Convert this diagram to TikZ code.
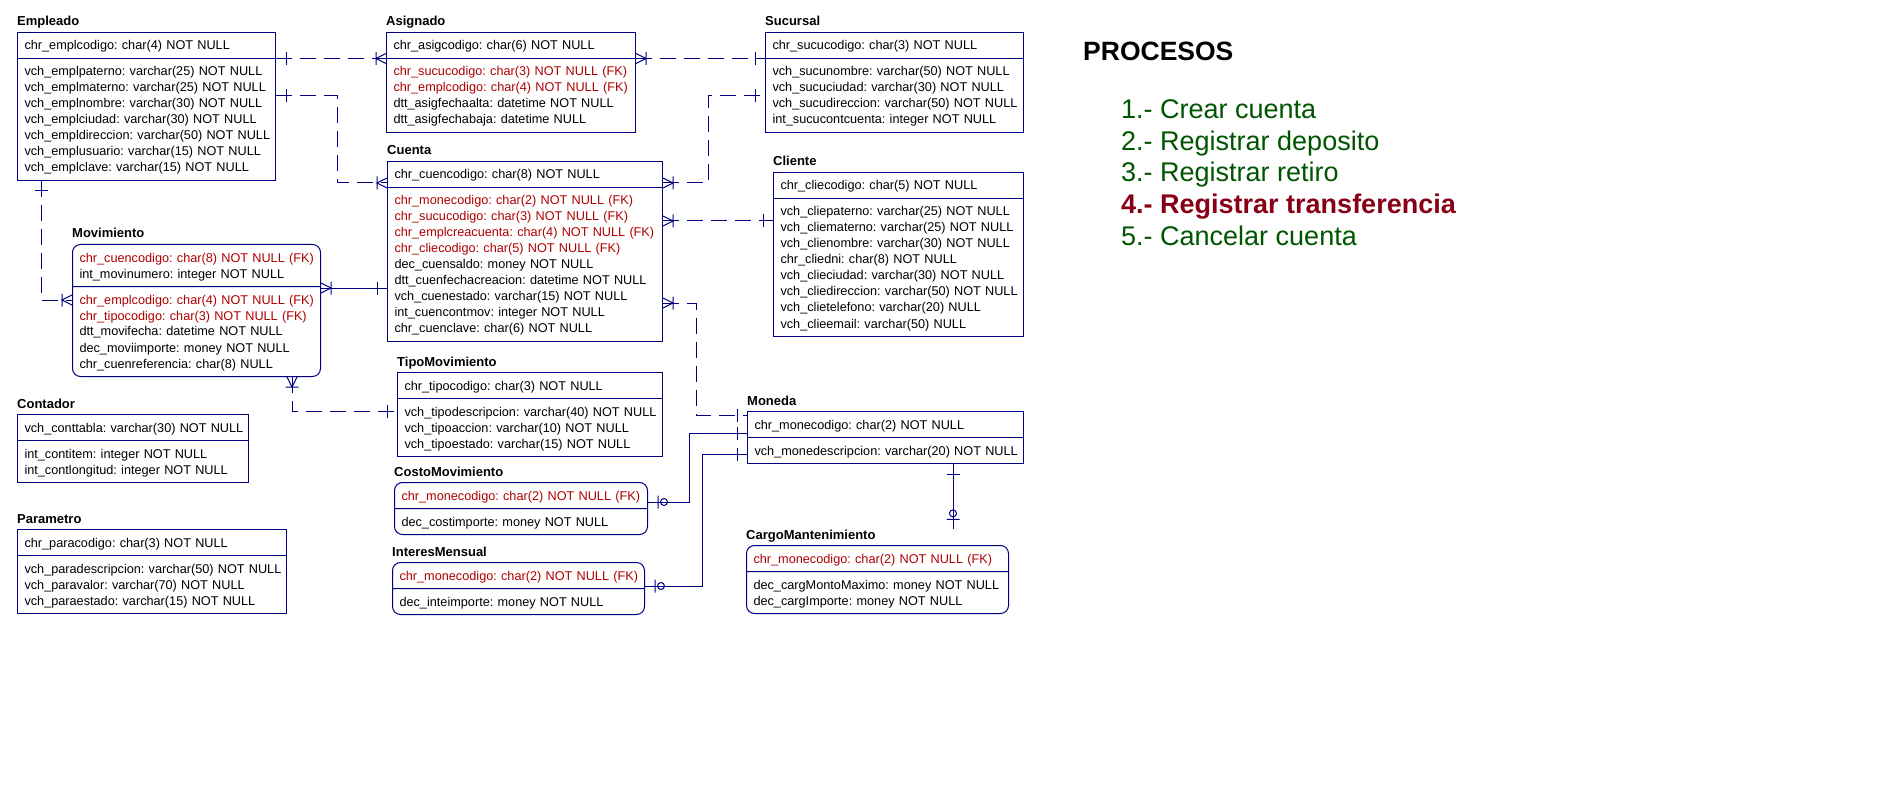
\documentclass[tikz,border=0pt]{standalone}
\usepackage{fontspec}
\setmainfont{Liberation Sans}
\usepackage{xcolor}
\usepackage{tikz}
\usetikzlibrary{shapes.multipart, decorations.markings, calc}
\frenchspacing
\definecolor{erblue}{RGB}{0,0,128}
\definecolor{fkred}{RGB}{175,0,0}
\definecolor{procgreen}{RGB}{0,85,0}
\definecolor{procred}{RGB}{136,0,21}
\newcommand{\erfont}{\fontsize{12.7pt}{16pt}\selectfont}
\newcommand{\ttlfont}{\fontsize{13pt}{16pt}\selectfont\bfseries}
\newcommand{\procfont}{\fontsize{27pt}{32pt}\selectfont}
\newcommand{\fld}[1]{\mbox{\rule[-3.5pt]{0pt}{16pt}#1}}
\newcommand{\fkf}[1]{\fld{\color{fkred}#1}}
\tikzset{
  tbl/.style={rectangle split, rectangle split parts=2, draw=erblue, line width=1pt, inner xsep=7pt, inner ysep=4.5pt, align=left, font=\erfont, anchor=north west},
  tblr/.style={tbl, rounded corners=8pt},
  ttl/.style={anchor=base west, inner sep=0pt, font=\ttlfont},
  proc/.style={anchor=base west, inner sep=0pt, font=\procfont, text=procgreen},
  rel/.style={erblue, line width=1pt, dash pattern=on 16pt off 8pt},
  idrel/.style={erblue, line width=1pt},
  one start/.style={postaction={decorate, decoration={markings, mark=at position 10pt with {\draw[solid, erblue, line width=1pt] (0,-6.5pt) -- (0,6.5pt);}}}},
  one end/.style={postaction={decorate, decoration={markings, mark=at position -10pt with {\draw[solid, erblue, line width=1pt] (0,-6.5pt) -- (0,6.5pt);}}}},
  many start/.style={postaction={decorate, decoration={markings, mark=at position 10pt with {\draw[solid, erblue, line width=1pt] (0,-6.5pt) -- (0,6.5pt) (-10pt,5pt) -- (0,0) -- (-10pt,-5pt);}}}},
  many end/.style={postaction={decorate, decoration={markings, mark=at position -10pt with {\draw[solid, erblue, line width=1pt] (0,-6.5pt) -- (0,6.5pt) (10pt,5pt) -- (0,0) -- (10pt,-5pt);}}}},
  zero one start/.style={postaction={decorate, decoration={markings, mark=at position 10pt with {\draw[solid, erblue, line width=1pt] (0,-6.5pt) -- (0,6.5pt) (6pt,0) circle (3.5pt);}}}},
  zero one end/.style={postaction={decorate, decoration={markings, mark=at position -10pt with {\draw[solid, erblue, line width=1pt] (0,-6.5pt) -- (0,6.5pt) (-6pt,0) circle (3.5pt);}}}},
}
\begin{document}
\begin{tikzpicture}[x=1pt, y=-1pt]
\path[use as bounding box, fill=white] (0,0) rectangle (1893,805);
% tablas
\node[tbl, text width=244pt] (emp) at (17,32) {\fld{chr\_emplcodigo: char(4) NOT NULL}
  \nodepart{two}\fld{vch\_emplpaterno: varchar(25) NOT NULL}\\\fld{vch\_emplmaterno: varchar(25) NOT NULL}\\
  \fld{vch\_emplnombre: varchar(30) NOT NULL}\\\fld{vch\_emplciudad: varchar(30) NOT NULL}\\
  \fld{vch\_empldireccion: varchar(50) NOT NULL}\\\fld{vch\_emplusuario: varchar(15) NOT NULL}\\
  \fld{vch\_emplclave: varchar(15) NOT NULL}};
\node[ttl] at ([yshift=6pt]emp.north west) {Empleado};
\node[tbl, text width=235pt] (asig) at (386,32) {\fld{chr\_asigcodigo: char(6) NOT NULL}
  \nodepart{two}\fkf{chr\_sucucodigo: char(3) NOT NULL (FK)}\\\fkf{chr\_emplcodigo: char(4) NOT NULL (FK)}\\
  \fld{dtt\_asigfechaalta: datetime NOT NULL}\\\fld{dtt\_asigfechabaja: datetime NULL}};
\node[ttl] at ([yshift=6pt]asig.north west) {Asignado};
\node[tbl, text width=244pt] (suc) at (765,32) {\fld{chr\_sucucodigo: char(3) NOT NULL}
  \nodepart{two}\fld{vch\_sucunombre: varchar(50) NOT NULL}\\\fld{vch\_sucuciudad: varchar(30) NOT NULL}\\
  \fld{vch\_sucudireccion: varchar(50) NOT NULL}\\\fld{int\_sucucontcuenta: integer NOT NULL}};
\node[ttl] at ([yshift=6pt]suc.north west) {Sucursal};
\node[tbl, text width=261pt] (cuenta) at (387,161) {\fld{chr\_cuencodigo: char(8) NOT NULL}
  \nodepart{two}\fkf{chr\_monecodigo: char(2) NOT NULL (FK)}\\\fkf{chr\_sucucodigo: char(3) NOT NULL (FK)}\\
  \fkf{chr\_emplcreacuenta: char(4) NOT NULL (FK)}\\\fkf{chr\_cliecodigo: char(5) NOT NULL (FK)}\\
  \fld{dec\_cuensaldo: money NOT NULL}\\\fld{dtt\_cuenfechacreacion: datetime NOT NULL}\\
  \fld{vch\_cuenestado: varchar(15) NOT NULL}\\\fld{int\_cuencontmov: integer NOT NULL}\\
  \fld{chr\_cuenclave: char(6) NOT NULL}};
\node[ttl] at ([yshift=6pt]cuenta.north west) {Cuenta};
\node[tbl, text width=236pt] (cli) at (773,172) {\fld{chr\_cliecodigo: char(5) NOT NULL}
  \nodepart{two}\fld{vch\_cliepaterno: varchar(25) NOT NULL}\\\fld{vch\_cliematerno: varchar(25) NOT NULL}\\
  \fld{vch\_clienombre: varchar(30) NOT NULL}\\\fld{chr\_cliedni: char(8) NOT NULL}\\
  \fld{vch\_clieciudad: varchar(30) NOT NULL}\\\fld{vch\_cliedireccion: varchar(50) NOT NULL}\\
  \fld{vch\_clietelefono: varchar(20) NULL}\\\fld{vch\_clieemail: varchar(50) NULL}};
\node[ttl] at ([yshift=6pt]cli.north west) {Cliente};
\node[tblr, text width=234pt] (mov) at (72,244) {\fkf{chr\_cuencodigo: char(8) NOT NULL (FK)}\\\fld{int\_movinumero: integer NOT NULL}
  \nodepart{two}\fkf{chr\_emplcodigo: char(4) NOT NULL (FK)}\\\fkf{chr\_tipocodigo: char(3) NOT NULL (FK)}\\
  \fld{dtt\_movifecha: datetime NOT NULL}\\\fld{dec\_moviimporte: money NOT NULL}\\
  \fld{chr\_cuenreferencia: char(8) NULL}};
\node[ttl] at ([yshift=6pt]mov.north west) {Movimiento};
\node[tbl, text width=251pt] (tipo) at (397,372) {\fld{chr\_tipocodigo: char(3) NOT NULL}
  \nodepart{two}\fld{vch\_tipodescripcion: varchar(40) NOT NULL}\\\fld{vch\_tipoaccion: varchar(10) NOT NULL}\\
  \fld{vch\_tipoestado: varchar(15) NOT NULL}};
\node[ttl] at ([yshift=6pt]tipo.north west) {TipoMovimiento};
\node[tblr, text width=239pt] (costo) at (394,482) {\fkf{chr\_monecodigo: char(2) NOT NULL (FK)}
  \nodepart{two}\fld{dec\_costimporte: money NOT NULL}};
\node[ttl] at ([yshift=6pt]costo.north west) {CostoMovimiento};
\node[tblr, text width=238pt] (inter) at (392,562) {\fkf{chr\_monecodigo: char(2) NOT NULL (FK)}
  \nodepart{two}\fld{dec\_inteimporte: money NOT NULL}};
\node[ttl] at ([yshift=6pt]inter.north west) {InteresMensual};
\node[tbl, text width=262pt] (mon) at (747,411) {\fld{chr\_monecodigo: char(2) NOT NULL}
  \nodepart{two}\fld{vch\_monedescripcion: varchar(20) NOT NULL}};
\node[ttl] at ([yshift=6pt]mon.north west) {Moneda};
\node[tblr, text width=248pt] (cargo) at (746,545) {\fkf{chr\_monecodigo: char(2) NOT NULL (FK)}
  \nodepart{two}\fld{dec\_cargMontoMaximo: money NOT NULL}\\\fld{dec\_cargImporte: money NOT NULL}};
\node[ttl] (cargoT) at ([yshift=6pt]cargo.north west) {CargoMantenimiento};
\node[tbl, text width=217pt] (cont) at (17,414) {\fld{vch\_conttabla: varchar(30) NOT NULL}
  \nodepart{two}\fld{int\_contitem: integer NOT NULL}\\\fld{int\_contlongitud: integer NOT NULL}};
\node[ttl] at ([yshift=6pt]cont.north west) {Contador};
\node[tbl, text width=255pt] (para) at (17,529) {\fld{chr\_paracodigo: char(3) NOT NULL}
  \nodepart{two}\fld{vch\_paradescripcion: varchar(50) NOT NULL}\\\fld{vch\_paravalor: varchar(70) NOT NULL}\\
  \fld{vch\_paraestado: varchar(15) NOT NULL}};
\node[ttl] at ([yshift=6pt]para.north west) {Parametro};
% relaciones
\draw[rel, one start, many end] (emp.text split east) -- (asig.text split west);
\draw[rel, one start, many end] (emp.east |- 0,96) -| (337,183) -- (cuenta.west |- 0,183);
\draw[rel, many start, one end] (asig.text split east) -- (suc.text split west);
\draw[rel, many start, one end] (cuenta.east |- 0,183) -| (708,96) -- (suc.west |- 0,96);
\draw[rel, many start, one end] (cuenta.east |- 0,221) -- (cli.west |- 0,221);
\draw[rel, many start, one end] (cuenta.east |- 0,303) -| (696,415) -- (mon.west |- 0,415);
\draw[idrel, many start, one end] (mov.east |- 0,288) -- (cuenta.west |- 0,288);
\draw[rel, one start, many end] (emp.south -| 41,0) |- (mov.west |- 0,300);
\draw[rel, many start, one end] (mov.south -| 292,0) |- (tipo.west |- 0,411);
\draw[idrel, zero one start, one end] (costo.east |- 0,502) -| (689,433) -- (mon.west |- 0,433);
\draw[idrel, zero one start, one end] (inter.east |- 0,586) -| (702,454) -- (mon.west |- 0,454);
\draw[idrel, one start, zero one end] (mon.south -| 953,0) -- (cargoT.north -| 953,0);
% procesos
\node[anchor=base west, inner sep=0pt, font=\fontsize{26.5pt}{32pt}\selectfont\bfseries] (procT) at (1083,61) {PROCESOS};
\node[proc] (p1) at (1121,119) {1.- Crear cuenta};
\node[proc] (p2) at (1121,151) {2.- Registrar deposito};
\node[proc] (p3) at (1121,182) {3.- Registrar retiro};
\node[proc, text=procred, font=\procfont\bfseries] (p4) at (1121,214) {4.- Registrar transferencia};
\node[proc] (p5) at (1121,246) {5.- Cancelar cuenta};
\end{tikzpicture}
\end{document}
